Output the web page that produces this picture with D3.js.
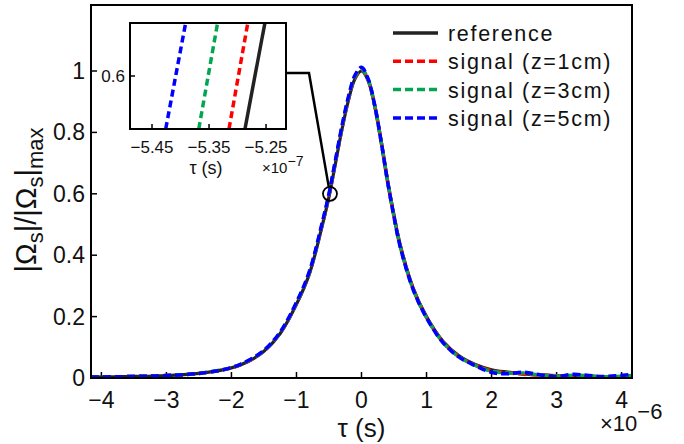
<!DOCTYPE html>
<html>
<head>
<meta charset="utf-8">
<script src="https://cdn.jsdelivr.net/npm/d3@7"></script>
<style>
  body { margin: 0; background: #fff; }
  text { font-family: "Liberation Sans", Arial, sans-serif; fill: #111; }
</style>
</head>
<body>
<svg width="684" height="444"></svg>
<script>
'use strict'

// time axis in microseconds
const tau = [-4.16, -3.5, -3, -2.5, -2, -1.75, -1.5, -1.25, -1, -0.8, -0.6, -0.5, -0.4, -0.3, -0.2, -0.1,
  0, 0.1, 0.2, 0.3, 0.4, 0.5, 0.6, 0.8, 1, 1.25, 1.5, 1.75, 2, 2.25, 2.5, 2.75, 3, 3.25, 3.5, 3.75, 4.16]

const reference = [0.003, 0.005, 0.008, 0.015, 0.033, 0.053, 0.087, 0.145, 0.24, 0.34, 0.5, 0.59, 0.7, 0.81, 0.905, 0.975,
  1.0, 0.97, 0.89, 0.775, 0.645, 0.53, 0.43, 0.29, 0.2, 0.12, 0.072, 0.044, 0.027, 0.019, 0.013, 0.01, 0.008, 0.006, 0.005, 0.004, 0.004]
const signal1 = [0.003, 0.005, 0.008, 0.015, 0.033, 0.054, 0.088, 0.147, 0.242, 0.343, 0.503, 0.594, 0.704, 0.814, 0.909, 0.979,
  1.004, 0.972, 0.89, 0.773, 0.642, 0.527, 0.427, 0.288, 0.198, 0.118, 0.07, 0.042, 0.024, 0.017, 0.012, 0.01, 0.007, 0.006, 0.005, 0.004, 0.004]
const signal3 = [0.003, 0.005, 0.008, 0.015, 0.034, 0.055, 0.089, 0.148, 0.244, 0.345, 0.506, 0.597, 0.707, 0.817, 0.912, 0.982,
  1.006, 0.973, 0.89, 0.772, 0.641, 0.525, 0.425, 0.286, 0.197, 0.117, 0.069, 0.041, 0.022, 0.016, 0.016, 0.01, 0.006, 0.009, 0.007, 0.004, 0.008]
const signal5 = [0.003, 0.005, 0.008, 0.015, 0.034, 0.056, 0.09, 0.15, 0.247, 0.348, 0.51, 0.601, 0.711, 0.822, 0.917, 0.987,
  1.012, 0.976, 0.892, 0.773, 0.641, 0.524, 0.423, 0.285, 0.196, 0.116, 0.068, 0.04, 0.018, 0.014, 0.019, 0.01, 0.004, 0.012, 0.008, 0.005, 0.012]

// zoomed inset: two points per line (tau in units of 1e-7 s)
const insetY = [0.595, 0.605]
const insetReference = [-5.287, -5.252]
const insetSignal1 = [-5.315, -5.282]
const insetSignal3 = [-5.368, -5.335]
const insetSignal5 = [-5.426, -5.391]

const xTicks = [-4, -3, -2, -1, 0, 1, 2, 3, 4]
const yTicks = [0, 0.2, 0.4, 0.6, 0.8, 1]
const insetXTicks = [-5.45, -5.35, -5.25]
const insetYTicks = [0.6]
const marker = { tau: -0.485, value: 0.6 }

const series = [
  { name: 'reference', values: reference, inset: insetReference, color: '#222', dash: null },
  { name: 'signal (z=1cm)', values: signal1, inset: insetSignal1, color: '#ff0000', dash: '8,4' },
  { name: 'signal (z=3cm)', values: signal3, inset: insetSignal3, color: '#00a651', dash: '8,4' },
  { name: 'signal (z=5cm)', values: signal5, inset: insetSignal5, color: '#0000ff', dash: '8,4' }
]

const svg = d3.select('svg')
const m = { left: 91, right: 632, top: 5, bottom: 378 }
const x = d3.scaleLinear().domain([-4.16, 4.16]).range([m.left, m.right])
const y = d3.scaleLinear().domain([0, 1.215]).range([m.bottom, m.top])
const fmt = (v) => String(v).replace('-', '\u2212')

svg.append('clipPath').attr('id', 'clipMain')
  .append('rect').attr('x', m.left).attr('y', m.top)
  .attr('width', m.right - m.left).attr('height', m.bottom - m.top)

// ticks (inward)
const axes = svg.append('g')
xTicks.forEach((t) => {
  axes.append('line').attr('x1', x(t)).attr('x2', x(t)).attr('y1', m.bottom).attr('y2', m.bottom - 6)
    .attr('stroke', '#000').attr('stroke-width', 1.5)
  axes.append('text').attr('x', x(t)).attr('y', 408).attr('text-anchor', 'middle')
    .style('font-size', '23px').text(fmt(t))
})
yTicks.forEach((t) => {
  axes.append('line').attr('x1', m.left).attr('x2', m.left + 6).attr('y1', y(t)).attr('y2', y(t))
    .attr('stroke', '#000').attr('stroke-width', 1.5)
  axes.append('text').attr('x', 85).attr('y', y(t) + 8).attr('text-anchor', 'end')
    .style('font-size', '23px').text(t)
})

const line = d3.line()
  .x((d, i) => x(tau[i]))
  .y((d) => y(d))
  .curve(d3.curveCatmullRom.alpha(0.5))

const plot = svg.append('g').attr('clip-path', 'url(#clipMain)')
series.forEach((s) => {
  plot.append('path').datum(s.values)
    .attr('d', line)
    .attr('fill', 'none')
    .attr('stroke', s.color)
    .attr('stroke-width', s.dash ? 3.5 : 3.2)
    .attr('stroke-dasharray', s.dash)
})

svg.append('rect').attr('x', m.left).attr('y', m.top)
  .attr('width', m.right - m.left).attr('height', m.bottom - m.top)
  .attr('fill', 'none').attr('stroke', '#000').attr('stroke-width', 2)

// axis labels
svg.append('text').attr('x', x(0)).attr('y', 437).attr('text-anchor', 'middle')
  .style('font-size', '26px').text('\u03c4 (s)')
const xExp = svg.append('text').attr('x', 600).attr('y', 431).style('font-size', '22px')
xExp.append('tspan').text('\u00d710')
xExp.append('tspan').attr('dy', -12).style('font-size', '22px').text('\u22126')

const yLab = svg.append('text')
  .attr('transform', 'translate(36,' + 200 + ') rotate(-90)')
  .attr('text-anchor', 'middle')
  .style('font-size', '29px')
yLab.append('tspan').text('|\u03a9')
yLab.append('tspan').attr('dy', 7).style('font-size', '22px').text('s')
yLab.append('tspan').attr('dy', -7).text('|/|\u03a9')
yLab.append('tspan').attr('dy', 7).style('font-size', '22px').text('s')
yLab.append('tspan').attr('dy', -7).text('|')
yLab.append('tspan').attr('dy', 7).style('font-size', '22px').text('max')

// legend
const legend = svg.append('g')
series.forEach((s, i) => {
  const ly = 33 + i * 28.3
  legend.append('line').attr('x1', 393).attr('x2', 438).attr('y1', ly).attr('y2', ly)
    .attr('stroke', s.color).attr('stroke-width', 3.5).attr('stroke-dasharray', s.dash)
  legend.append('text').attr('x', 448).attr('y', ly + 8)
    .style('font-size', '21.5px').style('letter-spacing', '1.7px').text(s.name)
})

// marker circle and connector
const im = { left: 130, right: 286, top: 23, bottom: 129 }
const cx = x(marker.tau)
const cy = y(marker.value)
const r = 7
svg.append('circle').attr('cx', cx).attr('cy', cy).attr('r', r)
  .attr('fill', 'none').attr('stroke', '#000').attr('stroke-width', 1.8)
const kneeX = im.right + 23
const kneeY = 73
const ang = Math.atan2(kneeY - cy, kneeX - cx)
svg.append('polyline')
  .attr('points', [[im.right, kneeY], [kneeX, kneeY], [cx + r * Math.cos(ang), cy + r * Math.sin(ang)]].join(' '))
  .attr('fill', 'none').attr('stroke', '#000').attr('stroke-width', 2.5)

// inset
const ix = d3.scaleLinear().domain([-5.4886, -5.215]).range([im.left, im.right])
const iy = d3.scaleLinear().domain(insetY).range([im.bottom, im.top])
svg.append('clipPath').attr('id', 'clipInset')
  .append('rect').attr('x', im.left).attr('y', im.top)
  .attr('width', im.right - im.left).attr('height', im.bottom - im.top)
svg.append('rect').attr('x', im.left).attr('y', im.top)
  .attr('width', im.right - im.left).attr('height', im.bottom - im.top)
  .attr('fill', '#fff')

const insetLine = d3.line().x((d) => ix(d)).y((d, i) => iy(insetY[i]))
const inset = svg.append('g').attr('clip-path', 'url(#clipInset)')
series.forEach((s) => {
  inset.append('path').datum(s.inset)
    .attr('d', insetLine)
    .attr('fill', 'none')
    .attr('stroke', s.color)
    .attr('stroke-width', 3.5)
    .attr('stroke-dasharray', s.dash ? '7,4' : null)
})
insetXTicks.forEach((t) => {
  svg.append('line').attr('x1', ix(t)).attr('x2', ix(t)).attr('y1', im.bottom).attr('y2', im.bottom - 5)
    .attr('stroke', '#000').attr('stroke-width', 1.5)
  svg.append('text').attr('x', ix(t)).attr('y', 153).attr('text-anchor', 'middle')
    .style('font-size', '17px').text(fmt(t.toFixed(2)))
})
insetYTicks.forEach((t) => {
  svg.append('line').attr('x1', im.left).attr('x2', im.left + 5).attr('y1', iy(t)).attr('y2', iy(t))
    .attr('stroke', '#000').attr('stroke-width', 1.5)
  svg.append('text').attr('x', 125).attr('y', iy(t) + 6).attr('text-anchor', 'end')
    .style('font-size', '17px').text(t)
})
svg.append('rect').attr('x', im.left).attr('y', im.top)
  .attr('width', im.right - im.left).attr('height', im.bottom - im.top)
  .attr('fill', 'none').attr('stroke', '#000').attr('stroke-width', 2)
svg.append('text').attr('x', 206).attr('y', 174).attr('text-anchor', 'middle')
  .style('font-size', '18px').text('\u03c4 (s)')
const iExp = svg.append('text').attr('x', 262).attr('y', 173).style('font-size', '15px')
iExp.append('tspan').text('\u00d710')
iExp.append('tspan').attr('dy', -7).style('font-size', '14px').text('\u22127')
</script>
</body>
</html>
